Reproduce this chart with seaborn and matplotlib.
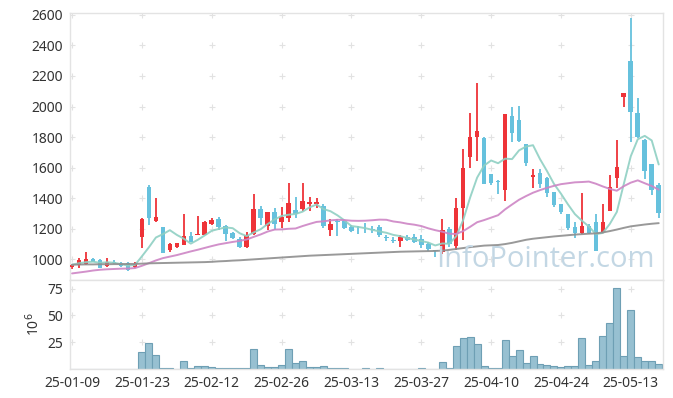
import matplotlib
matplotlib.use("Agg")
import matplotlib.pyplot as plt
import seaborn as sns
import numpy as np
import pandas as pd

# trading days (YY-MM-DD)
dates = [
    "25-01-09", "25-01-10", "25-01-13", "25-01-14", "25-01-15", "25-01-16", "25-01-17",
    "25-01-20", "25-01-21", "25-01-22", "25-01-23", "25-01-24", "25-01-31",
    "25-02-03", "25-02-04", "25-02-05", "25-02-06", "25-02-07", "25-02-10", "25-02-11",
    "25-02-12", "25-02-13", "25-02-14", "25-02-17", "25-02-18", "25-02-19", "25-02-20",
    "25-02-21", "25-02-24", "25-02-25", "25-02-26", "25-02-27", "25-02-28",
    "25-03-04", "25-03-05", "25-03-06", "25-03-07", "25-03-10", "25-03-11", "25-03-12",
    "25-03-13", "25-03-14", "25-03-17", "25-03-18", "25-03-19", "25-03-20", "25-03-21",
    "25-03-24", "25-03-25", "25-03-26", "25-03-27", "25-03-28", "25-03-31",
    "25-04-01", "25-04-02", "25-04-03", "25-04-04", "25-04-07", "25-04-08", "25-04-09",
    "25-04-10", "25-04-11", "25-04-14", "25-04-15", "25-04-16", "25-04-17", "25-04-18",
    "25-04-21", "25-04-22", "25-04-23", "25-04-24", "25-04-25", "25-04-28", "25-04-29",
    "25-04-30", "25-05-02", "25-05-07", "25-05-08", "25-05-09", "25-05-12", "25-05-13",
    "25-05-14", "25-05-15", "25-05-16", "25-05-19",
]

opens = [948, 963, 969, 1000, 993, 954, 985, 976, 976, 952,
         1146, 1474, 1251, 1212, 1063, 1079, 1096, 1153, 1160, 1160,
         1231, 1264, 1216, 1170, 1131, 1083, 1168, 1330, 1220, 1308,
         1247, 1273, 1323, 1330, 1362, 1362, 1347, 1194, 1251, 1251,
         1214, 1194, 1194, 1196, 1214, 1142, 1124, 1118, 1144, 1148,
         1131, 1100, 1058, 1050, 1201, 1085, 1336, 1668, 1799, 1797,
         1557, 1512, 1456, 1939, 1912, 1753, 1541, 1565, 1530, 1441,
         1360, 1295, 1210, 1175, 1218, 1244, 1181, 1319, 1530, 2061,
         2299, 1956, 1781, 1624, 1489]
highs = [972, 1007, 1046, 1007, 1004, 1007, 993, 985, 980, 980,
         1268, 1485, 1400, 1214, 1105, 1110, 1295, 1181, 1282, 1253,
         1268, 1275, 1222, 1181, 1144, 1177, 1426, 1351, 1312, 1334,
         1340, 1498, 1410, 1498, 1410, 1404, 1360, 1264, 1262, 1260,
         1223, 1218, 1240, 1218, 1223, 1162, 1148, 1159, 1157, 1166,
         1157, 1113, 1061, 1266, 1210, 1400, 1722, 1956, 2155, 1800,
         1560, 1520, 1952, 1998, 2002, 1757, 1594, 1590, 1540, 1443,
         1365, 1297, 1247, 1437, 1232, 1295, 1362, 1550, 1781, 2087,
         2578, 2054, 1785, 1626, 1498]
lows = [937, 945, 963, 980, 941, 950, 967, 952, 926, 941,
        1072, 1225, 1247, 1040, 1046, 1077, 1094, 1112, 1158, 1157,
        1224, 1192, 1120, 1131, 1074, 1072, 1162, 1225, 1192, 1192,
        1207, 1247, 1273, 1316, 1316, 1334, 1203, 1151, 1151, 1199,
        1179, 1166, 1170, 1175, 1148, 1118, 1105, 1083, 1120, 1105,
        1074, 1057, 1017, 1035, 1083, 1060, 1126, 1596, 1642, 1493,
        1487, 1428, 1384, 1770, 1770, 1611, 1467, 1465, 1408, 1345,
        1298, 1195, 1138, 1166, 1166, 1055, 1175, 1315, 1465, 1995,
        1771, 1795, 1524, 1421, 1268]
closes = [961, 993, 1000, 985, 945, 980, 978, 958, 932, 969,
          1264, 1273, 1277, 1044, 1098, 1107, 1151, 1116, 1166, 1245,
          1255, 1212, 1168, 1138, 1083, 1160, 1330, 1273, 1308, 1233,
          1277, 1367, 1299, 1382, 1373, 1373, 1220, 1229, 1246, 1207,
          1188, 1190, 1190, 1192, 1157, 1140, 1122, 1148, 1127, 1113,
          1092, 1070, 1055, 1192, 1100, 1336, 1600, 1799, 1840, 1495,
          1502, 1508, 1951, 1825, 1777, 1629, 1554, 1495, 1436, 1358,
          1308, 1205, 1175, 1218, 1170, 1057, 1244, 1472, 1607, 2087,
          1967, 1799, 1581, 1454, 1306]
# volume in millions
volumes = [0.3, 0.3, 0.3, 0.3, 0.3, 0.3, 0.3, 0.3, 0.3, 0.3,
           15.6, 24.0, 12.8, 1.0, 1.0, 0.2, 7.2, 1.0, 2.8, 2.8,
           1.9, 1.0, 0.9, 0.9, 0.9, 0.9, 18.8, 3.8, 1.9, 1.9,
           3.8, 18.8, 5.6, 7.2, 1.9, 1.9, 2.8, 0.8, 0.6, 0.6,
           0.2, 0.2, 0.6, 0.2, 0.6, 0.2, 0.2, 0.2, 0.2, 0.2,
           0.6, 0.2, 0.2, 6.3, 0.6, 21.3, 28.8, 29.7, 23.1, 2.5,
           0.6, 0.6, 26.9, 12.2, 17.5, 5.3, 11.9, 4.4, 3.8, 2.5,
           1.9, 2.5, 2.5, 28.8, 3.8, 7.2, 30.6, 42.8, 75.6, 11.9,
           55.0, 10.9, 7.2, 7.2, 4.4]

ma5 = [965, 975, 982, 985, 977, 981, 978, 969, 959, 963,
       1020, 1079, 1143, 1165, 1191, 1160, 1135, 1103, 1128, 1157,
       1187, 1199, 1209, 1204, 1171, 1152, 1176, 1197, 1231, 1261,
       1284, 1292, 1297, 1312, 1340, 1359, 1329, 1315, 1288, 1255,
       1218, 1212, 1204, 1193, 1183, 1174, 1160, 1152, 1139, 1130,
       1120, 1110, 1091, 1104, 1102, 1151, 1257, 1405, 1535, 1614,
       1647, 1629, 1659, 1656, 1713, 1738, 1747, 1656, 1578, 1494,
       1430, 1360, 1296, 1253, 1215, 1165, 1173, 1232, 1310, 1493,
       1675, 1786, 1808, 1778, 1621]
ma20 = [908, 914, 920, 927, 932, 935, 937, 939, 940, 943,
        958, 975, 993, 1008, 1018, 1028, 1040, 1052, 1063, 1075,
        1087, 1098, 1106, 1114, 1121, 1130, 1147, 1163, 1182, 1195,
        1196, 1200, 1202, 1218, 1232, 1245, 1249, 1255, 1259, 1257,
        1253, 1252, 1253, 1256, 1260, 1259, 1248, 1242, 1233, 1227,
        1218, 1203, 1191, 1181, 1168, 1166, 1185, 1213, 1243, 1257,
        1273, 1289, 1327, 1359, 1390, 1414, 1436, 1453, 1468, 1481,
        1492, 1498, 1504, 1506, 1509, 1495, 1477, 1461, 1449, 1479,
        1502, 1517, 1498, 1480, 1456]
ma120 = [965, 966, 967, 967, 968, 968, 969, 969, 970, 970,
         972, 974, 975, 976, 977, 978, 979, 980, 981, 982,
         984, 987, 989, 992, 994, 997, 1000, 1003, 1006, 1009,
         1012, 1015, 1018, 1021, 1024, 1026, 1028, 1030, 1032, 1034,
         1036, 1038, 1040, 1042, 1044, 1046, 1048, 1050, 1051, 1052,
         1053, 1054, 1055, 1057, 1062, 1068, 1074, 1080, 1085, 1090,
         1092, 1094, 1100, 1108, 1118, 1128, 1135, 1140, 1145, 1150,
         1154, 1158, 1162, 1165, 1168, 1170, 1176, 1185, 1195, 1206,
         1216, 1222, 1228, 1233, 1237]

RED = "#ee3338"
BLUE = "#66c1dd"

df = pd.DataFrame({"date": dates, "open": opens, "high": highs, "low": lows,
                   "close": closes, "volume": volumes})
df["idx"] = np.arange(len(df))
up = df["close"] >= df["open"]
colors = np.where(up, RED, BLUE)

sns.set_theme(style="white")
plt.rcParams["font.family"] = ["Noto Sans", "DejaVu Sans"]

fig = plt.figure(figsize=(6.73, 3.98), dpi=100)
ax = fig.add_axes([0.104, 0.2965, 0.881, 0.672])
axv = fig.add_axes([0.104, 0.0729, 0.881, 0.2236], sharex=ax)

# candles
ax.vlines(df["idx"], df["low"], df["high"], color=colors, lw=1.3, zorder=2)
body_lo = df[["open", "close"]].min(axis=1)
body_h = (df["close"] - df["open"]).abs().clip(lower=5)
ax.bar(df["idx"], body_h, bottom=body_lo, width=0.66, color=colors, lw=0, zorder=3)

# moving averages
ma = pd.DataFrame({"idx": df["idx"], "MA5": ma5, "MA20": ma20, "MA120": ma120})
ma_long = ma.melt(id_vars="idx", var_name="line", value_name="price")
sns.lineplot(data=ma_long, x="idx", y="price", hue="line",
             palette={"MA5": "#8fd0c3", "MA20": "#cd85c5", "MA120": "#8e8e8e"},
             lw=1.4, alpha=0.9, legend=False, ax=ax, zorder=4)

ax.text(0.986, 0.05, "InfoPointer.com", transform=ax.transAxes, ha="right",
        va="baseline", fontsize=21, color="#c3d7e4", family="Open Sans", zorder=5)

# volume
axv.bar(df["idx"], df["volume"], width=1.0, color="#97c0d1", edgecolor="#6e9fb4",
        lw=0.8, zorder=2)

xt = list(range(0, 85, 10))
ax.set_xticks(xt)
axv.set_xticks(xt)
axv.set_xticklabels([dates[i] for i in xt])
ax.tick_params(labelbottom=False)
ax.set_yticks(range(1000, 2601, 200))
axv.set_yticks([25, 50, 75])
ax.set_xlabel("")
ax.set_ylabel("")
axv.set_ylabel("10$^6$", fontsize=10, color="#333333", labelpad=3)

for a in (ax, axv):
    a.tick_params(length=0, labelsize=10, colors="#333333", pad=5)
    for s in a.spines.values():
        s.set_color("#e3e3e3")
        s.set_linewidth(1.0)
    # small '+' marks at grid crossings
    gx, gy = np.meshgrid(a.get_xticks(), a.get_yticks())
    a.plot(gx.ravel(), gy.ravel(), "+", color="#e2e2e2", ms=4.5, mew=0.8, zorder=1)

ax.set_ylim(865, 2615)
axv.set_ylim(0, 83)
ax.set_xlim(-0.3, 84.6)

fig.savefig("out.png", dpi=100)
